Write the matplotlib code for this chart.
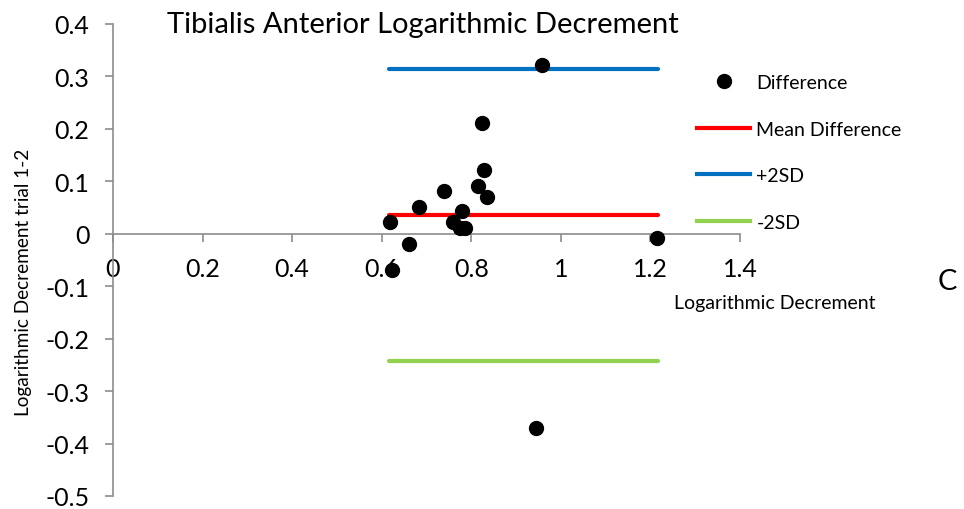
import numpy as np
import matplotlib
matplotlib.use("Agg")
import matplotlib.pyplot as plt
from matplotlib.lines import Line2D

# Bland-Altman data
mean_ld = [0.959, 0.824, 0.829, 0.814, 0.834, 0.739, 0.684, 0.619, 0.779,
           0.760, 0.775, 0.786, 0.660, 0.624, 1.214, 0.944]
diff_ld = [0.322, 0.212, 0.121, 0.091, 0.070, 0.081, 0.051, 0.022, 0.043,
           0.022, 0.011, 0.011, -0.019, -0.070, -0.008, -0.371]
line_x = [0.616, 1.217]
mean_diff = 0.036
plus_2sd = 0.314
minus_2sd = -0.243

xticks = [0, 0.2, 0.4, 0.6, 0.8, 1.0, 1.2, 1.4]
xtick_labels = ["0", "0.2", "0.4", "0.6", "0.8", "1", "1.2", "1.4"]
yticks = [-0.5, -0.4, -0.3, -0.2, -0.1, 0, 0.1, 0.2, 0.3, 0.4]
ytick_labels = ["-0.5", "-0.4", "-0.3", "-0.2", "-0.1", "0", "0.1", "0.2", "0.3", "0.4"]

plt.rcParams["font.family"] = ["Lato", "DejaVu Sans"]
W, H = 964, 510
fig = plt.figure(figsize=(W / 100, H / 100), dpi=100)
ax = fig.add_axes([113 / W, 1 - 497 / H, 627 / W, 472 / H])

ax.plot(line_x, [plus_2sd] * 2, color="#0070C0", lw=3, solid_capstyle="round", zorder=2)
ax.plot(line_x, [mean_diff] * 2, color="#FF0000", lw=3, solid_capstyle="round", zorder=2)
ax.plot(line_x, [minus_2sd] * 2, color="#92D050", lw=3, solid_capstyle="round", zorder=2)
ax.plot(mean_ld, diff_ld, "o", color="black", ms=10, zorder=3, clip_on=False)

ax.set_xlim(0, 1.4)
ax.set_ylim(-0.5, 0.4)
for s in ["top", "right"]:
    ax.spines[s].set_visible(False)
ax.spines["bottom"].set_position(("data", 0))
for s in ["left", "bottom"]:
    ax.spines[s].set_color("#8c8c8c")
    ax.spines[s].set_linewidth(1.2)
ax.set_xticks(xticks, xtick_labels)
ax.set_yticks(yticks, ytick_labels)
ax.tick_params(axis="both", colors="#8c8c8c", labelcolor="black", labelsize=18,
               length=6, width=1.2)
ax.tick_params(axis="x", pad=11)
ax.tick_params(axis="y", pad=11)

ax.set_ylabel("Logarithmic Decrement trial 1-2", fontsize=13.7)
ax.yaxis.set_label_coords(-0.129, 0.454)
fig.text(775 / W, 1 - 304 / H, "Logarithmic Decrement", fontsize=14,
         ha="center", va="center")
fig.text(167 / W, 1 - 33 / H, "Tibialis Anterior Logarithmic Decrement",
         fontsize=21, ha="left", va="baseline")
fig.text(938 / W, 1 - 290 / H, "C", fontsize=21, ha="left", va="baseline")

handles = [
    Line2D([], [], ls="none", marker="o", color="black", ms=10),
    Line2D([], [], color="#FF0000", lw=3),
    Line2D([], [], color="#0070C0", lw=3),
    Line2D([], [], color="#92D050", lw=3),
]
labels = ["Difference", "Mean Difference", "+2SD", "-2SD"]
fig.legend(handles, labels, loc="upper left", frameon=False, fontsize=14,
           bbox_to_anchor=(697 / W, 1 - 75 / H), borderpad=0, borderaxespad=0,
           handlelength=2.75, handletextpad=0.3, labelspacing=1.52)

fig.savefig("out.png", dpi=100)
